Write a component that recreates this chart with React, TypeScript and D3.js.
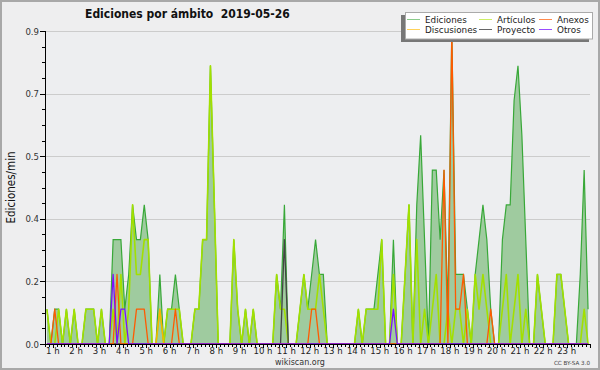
import React, { useRef, useEffect } from 'react';
import * as d3 from 'd3';

// 10-minute bins, 0:40 -> 24:00, one point per bin (plotted at bin middle)
const binStart = 40;
const binSize = 10;

// edits per minute
const ediciones = [
  0.1, 0, 0.1, 0.1, 0, 0.1, 0, 0.1, 0, 0,
  0.1, 0.1, 0.1, 0, 0.1, 0, 0, 0.3, 0.3, 0.3,
  0.1, 0.2, 0.4, 0.3, 0.3, 0.4, 0.3, 0, 0, 0.2,
  0, 0.1, 0.1, 0.2, 0.1, 0, 0, 0, 0.1, 0.1,
  0.3, 0.3, 0.8, 0.4, 0, 0, 0, 0, 0.3, 0.1,
  0, 0.1, 0, 0.1, 0, 0, 0, 0, 0, 0.2,
  0.1, 0.4, 0, 0, 0, 0.1, 0.2, 0.1, 0.2, 0.3,
  0.2, 0.2, 0, 0, 0, 0, 0, 0, 0, 0,
  0.1, 0, 0.1, 0.1, 0.1, 0.2, 0.3, 0, 0, 0.3,
  0, 0, 0.2, 0.4, 0, 0.4, 0.6, 0.3, 0, 0.5,
  0.5, 0.3, 0.5, 0.1, 0.9, 0.2, 0.2, 0.2, 0.1, 0,
  0.2, 0.3, 0.4, 0.3, 0.1, 0, 0, 0.3, 0.4, 0.4,
  0.7, 0.8, 0.6, 0.3, 0, 0, 0.2, 0.1, 0, 0,
  0, 0.2, 0.2, 0.1, 0, 0, 0, 0.2, 0.5, 0.1,
];

const articulos = [
  0.1, 0, 0, 0.1, 0, 0.1, 0, 0.1, 0, 0,
  0.1, 0.1, 0.1, 0, 0.1, 0, 0, 0.1, 0, 0.2,
  0, 0.1, 0.4, 0.2, 0.2, 0.3, 0.3, 0, 0, 0.1,
  0, 0.1, 0.1, 0.1, 0.1, 0, 0, 0, 0.1, 0.1,
  0.3, 0.3, 0.8, 0.4, 0, 0, 0, 0, 0.3, 0.1,
  0, 0.1, 0, 0.1, 0, 0, 0, 0, 0, 0.2,
  0.1, 0.1, 0, 0, 0, 0.1, 0.2, 0.1, 0.1, 0.1,
  0.2, 0.1, 0, 0, 0, 0, 0, 0, 0, 0,
  0.1, 0, 0.1, 0.1, 0.1, 0.1, 0.3, 0, 0, 0.2,
  0, 0, 0.2, 0.4, 0, 0.3, 0, 0.1, 0, 0.1,
  0.2, 0, 0, 0.1, 0, 0.1, 0.1, 0, 0.1, 0,
  0.2, 0.1, 0.2, 0.1, 0, 0, 0, 0.1, 0.2, 0,
  0.1, 0.2, 0, 0.1, 0, 0, 0.2, 0.1, 0, 0,
  0, 0.2, 0.2, 0.1, 0, 0, 0, 0, 0.1, 0,
];

// sparse series: [bin, value], other bins are 0
const anexos: [number, number][] = [
  [2, 0.1], [18, 0.2], [23, 0.1], [24, 0.1], [25, 0.1], [33, 0.1],
  [68, 0.1], [69, 0.1], [102, 0.5], [104, 0.9], [105, 0.1], [106, 0.1],
  [107, 0.2], [114, 0.1],
];
const discusiones: [number, number][] = [[29, 0.1]];
const proyecto: [number, number][] = [[61, 0.3]];
const otros: [number, number][] = [[17, 0.2], [19, 0.1], [20, 0.1], [89, 0.1]];

const hourLabels = d3.range(1, 24).map(h => `${h} h`);
const yMax = 0.9;

const legendItems = [
  { name: 'Ediciones', color: '#8bcb8b' },
  { name: 'Artículos', color: '#cdee66' },
  { name: 'Anexos', color: '#ff8a4d' },
  { name: 'Discusiones', color: '#ffd25a' },
  { name: 'Proyecto', color: '#666666' },
  { name: 'Otros', color: '#9a4dff' },
];

const expand = (pairs: [number, number][]) => {
  const out = ediciones.map(() => 0);
  pairs.forEach(([i, v]) => { out[i] = v; });
  return out;
};

export default function App() {
  const svgRef = useRef<SVGSVGElement>(null);
  const width = 600, height = 370;

  useEffect(() => {
    const svg = d3.select(svgRef.current);
    svg.selectAll('*').remove();

    const margin = { top: 31, right: 10, bottom: 26, left: 45 };
    const x0 = margin.left, x1 = width - margin.right;
    const y0 = height - margin.bottom, y1 = margin.top;

    const x = d3.scaleLinear().domain([binStart, 1440]).range([x0, x1]);
    const y = d3.scaleLinear().domain([0, yMax]).range([y0, y1]);
    const t = (i: number) => binStart + binSize * i + binSize / 2;

    // background + frame
    svg.append('rect').attr('width', width).attr('height', height).attr('fill', '#eeeeef');
    svg.append('rect').attr('x', x0).attr('y', y1).attr('width', x1 - x0).attr('height', y0 - y1)
      .attr('fill', '#edeef0');
    svg.append('rect').attr('x', 1).attr('y', 1).attr('width', width - 2).attr('height', height - 2)
      .attr('fill', 'none').attr('stroke', '#a8a8a8').attr('stroke-width', 2);

    // gridlines
    const majorY = d3.range(0, 6).map(k => k * 0.18);
    svg.append('g').selectAll('line').data(majorY.slice(1)).join('line')
      .attr('x1', x0).attr('x2', x1)
      .attr('y1', d => Math.round(y(d)) + 0.5).attr('y2', d => Math.round(y(d)) + 0.5)
      .attr('stroke', '#cccccc').attr('stroke-width', 1);

    // Ediciones area
    const area = d3.area<number>()
      .x((d, i) => x(t(i)))
      .y0(y(0))
      .y1(d => y(d));
    const line = d3.line<number>()
      .x((d, i) => x(t(i)))
      .y(d => y(d));

    svg.append('path').datum(ediciones).attr('d', area).attr('fill', '#9fcb9f');
    svg.append('path').datum(ediciones).attr('d', line).attr('fill', 'none')
      .attr('stroke', '#38a838').attr('stroke-width', 1.2);

    const series = [
      { data: articulos, color: '#a2e000', w: 1.6 },
      { data: expand(discusiones), color: '#ffb000', w: 1.3 },
      { data: expand(proyecto), color: '#444444', w: 1.3 },
      { data: expand(anexos), color: '#ff5a00', w: 1.3 },
      { data: expand(otros), color: '#7a10ff', w: 1.3 },
    ];
    series.forEach(s => {
      svg.append('path').datum(s.data).attr('d', line).attr('fill', 'none')
        .attr('stroke', s.color).attr('stroke-width', s.w).attr('stroke-linejoin', 'round');
    });

    // y axis
    const ya = svg.append('g');
    ya.append('line').attr('x1', x0 + 0.5).attr('x2', x0 + 0.5).attr('y1', y1).attr('y2', y0 + 1)
      .attr('stroke', '#000');
    const minorY = d3.range(0, 21).map(k => k * 0.045);
    ya.selectAll('line.minor').data(minorY).join('line').attr('class', 'minor')
      .attr('x1', (d, i) => i % 4 === 0 ? x0 - 5 : x0 - 3).attr('x2', x0)
      .attr('y1', d => Math.round(y(d)) + 0.5).attr('y2', d => Math.round(y(d)) + 0.5)
      .attr('stroke', '#000');
    ya.selectAll('text').data(majorY).join('text')
      .attr('x', x0 - 6).attr('y', d => y(d) + 3.5)
      .attr('text-anchor', 'end')
      .style('font-family', "'Liberation Sans Narrow', 'DejaVu Sans Condensed', sans-serif")
      .style('font-size', '9.5px').attr('fill', '#333')
      .text(d => d3.format('.1f')(d));

    // x axis
    const xa = svg.append('g');
    xa.append('line').attr('x1', x0).attr('x2', x1).attr('y1', y0 + 0.5).attr('y2', y0 + 0.5)
      .attr('stroke', '#000');
    const minorX = d3.range(binStart, 1441, binSize);
    xa.selectAll('line.tick').data(minorX).join('line').attr('class', 'tick')
      .attr('x1', d => Math.round(x(d)) + 0.5).attr('x2', d => Math.round(x(d)) + 0.5)
      .attr('y1', y0).attr('y2', d => d % 60 === 0 ? y0 + 4 : y0 + 3)
      .attr('stroke', '#000');
    xa.selectAll('text').data(hourLabels).join('text')
      .attr('x', (d, i) => x((i + 1) * 60)).attr('y', y0 + 10)
      .attr('text-anchor', 'middle')
      .style('font-family', "'Liberation Sans Narrow', 'DejaVu Sans Condensed', sans-serif")
      .style('font-size', '9.5px').attr('fill', '#222')
      .text(d => d);

    // titles
    svg.append('text').attr('x', 85).attr('y', 18)
      .style('font-family', "'DejaVu Sans Condensed', 'DejaVu Sans', sans-serif")
      .style('font-weight', 'bold').style('font-size', '12px').attr('fill', '#111')
      .attr('xml:space', 'preserve')
      .text('Ediciones por ámbito  2019-05-26');
    svg.append('text')
      .attr('transform', `translate(15,${(y0 + y1) / 2}) rotate(-90)`)
      .attr('text-anchor', 'middle')
      .style('font-family', "'DejaVu Sans Condensed', 'DejaVu Sans', sans-serif")
      .style('font-size', '11.5px').attr('fill', '#111')
      .text('Ediciones/min');
    svg.append('text').attr('x', 300).attr('y', 365).attr('text-anchor', 'middle')
      .style('font-family', "'DejaVu Sans', sans-serif").style('font-size', '8px').attr('fill', '#333')
      .text('wikiscan.org');
    svg.append('text').attr('x', 590).attr('y', 365).attr('text-anchor', 'end')
      .style('font-family', "'DejaVu Sans', sans-serif").style('font-size', '5.6px').attr('fill', '#444')
      .text('CC BY-SA 3.0');

    // legend
    const lg = svg.append('g');
    lg.append('rect').attr('x', 401).attr('y', 15).attr('width', 188).attr('height', 27).attr('fill', '#777');
    lg.append('rect').attr('x', 405.5).attr('y', 12.5).attr('width', 187).attr('height', 26.5)
      .attr('fill', '#fff').attr('stroke', '#aaa');
    const colX = [407, 479, 539];
    const rowY = [19.5, 29.5];
    legendItems.forEach((it, k) => {
      const cx = colX[k % 3], cy = rowY[Math.floor(k / 3)];
      lg.append('line').attr('x1', cx).attr('x2', cx + 13).attr('y1', cy).attr('y2', cy)
        .attr('stroke', it.color).attr('stroke-width', 1);
      lg.append('text').attr('x', cx + 18).attr('y', cy + 3.3)
        .style('font-family', "'DejaVu Sans', sans-serif").style('font-size', '8.8px').attr('fill', '#222')
        .text(it.name);
    });
  }, []);

  return (
    <svg ref={svgRef} width={width} height={height}
      style={{ position: 'absolute', left: 0, top: 0, display: 'block' }} />
  );
}
